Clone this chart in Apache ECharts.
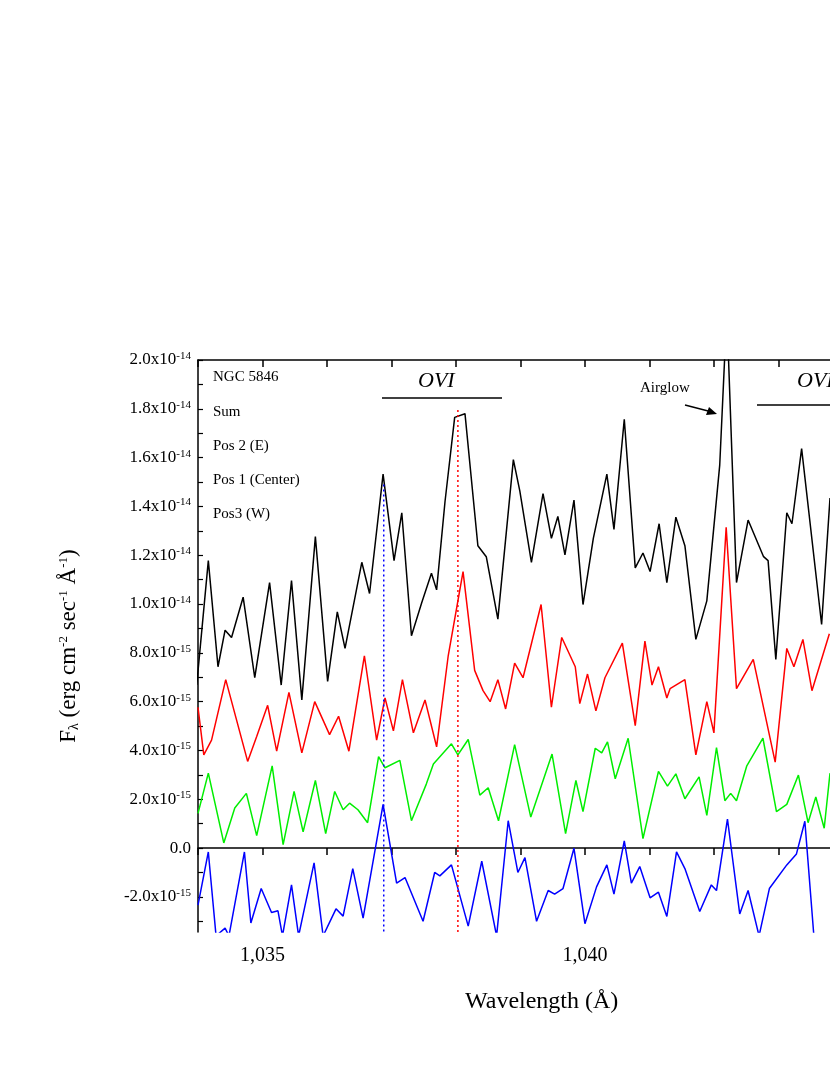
<!DOCTYPE html>
<html><head><meta charset="utf-8">
<script src="https://cdn.jsdelivr.net/npm/echarts@6/dist/echarts.min.js"></script>
<style>html,body{margin:0;padding:0;background:#fff}#c{width:830px;height:1075px}</style>
</head><body><div id="c"></div>
<script>
// wavelengths (Å) and fluxes (units of 1e-15 erg cm^-2 s^-1 Å^-1)
const sumWave = [1033.98,1034.16,1034.31,1034.42,1034.52,1034.70,1034.88,1035.11,1035.29,1035.45,1035.61,1035.82,1036.01,1036.16,1036.28,1036.54,1036.66,1036.87,1037.04,1037.16,1037.31,1037.47,1037.62,1037.70,1037.83,1037.98,1038.14,1038.34,1038.47,1038.65,1038.89,1038.99,1039.17,1039.35,1039.48,1039.58,1039.69,1039.83,1039.97,1040.13,1040.34,1040.45,1040.61,1040.78,1040.90,1041.01,1041.15,1041.27,1041.41,1041.55,1041.72,1041.89,1042.09,1042.20,1042.35,1042.53,1042.77,1042.84,1042.96,1043.13,1043.21,1043.36,1043.67,1043.80];
const sumFlux = [6.68,11.78,7.43,8.93,8.63,10.28,6.98,10.88,6.68,10.96,6.07,12.76,6.83,9.68,8.18,11.71,10.43,15.32,11.78,13.74,8.70,10.06,11.26,10.58,14.19,17.65,17.80,12.39,11.94,9.38,15.92,14.64,11.71,14.52,12.69,13.59,12.01,14.26,9.98,12.69,15.32,13.06,17.57,11.48,12.09,11.33,13.29,10.88,13.56,12.39,8.55,10.13,15.69,22.0,10.88,13.44,11.94,11.78,7.73,13.74,13.29,16.37,9.16,14.34];
const eWave = [1034.00,1034.09,1034.21,1034.43,1034.77,1034.91,1035.08,1035.22,1035.41,1035.61,1035.81,1036.04,1036.18,1036.34,1036.58,1036.77,1036.90,1037.03,1037.17,1037.34,1037.52,1037.70,1037.88,1038.11,1038.29,1038.42,1038.53,1038.65,1038.77,1038.91,1039.04,1039.32,1039.48,1039.64,1039.85,1039.92,1040.04,1040.17,1040.31,1040.58,1040.78,1040.93,1041.04,1041.14,1041.27,1041.32,1041.55,1041.72,1041.89,1042.00,1042.19,1042.35,1042.61,1042.95,1043.13,1043.24,1043.38,1043.52,1043.79];
const eFlux = [5.77,3.82,4.42,6.90,3.55,4.57,5.85,3.97,6.38,3.90,6.00,4.65,5.40,3.97,7.88,4.42,6.15,4.80,6.90,4.72,6.07,4.15,7.88,11.33,7.28,6.45,6.00,6.90,5.70,7.58,6.98,9.98,5.77,8.63,7.43,5.92,7.13,5.62,6.98,8.40,5.02,8.48,6.68,7.43,6.15,6.53,6.90,3.82,6.00,4.72,13.14,6.53,7.73,3.52,8.18,7.43,8.55,6.45,8.78];
const cWave = [1034.00,1034.16,1034.40,1034.57,1034.75,1034.91,1035.15,1035.32,1035.49,1035.63,1035.82,1035.98,1036.12,1036.25,1036.35,1036.48,1036.63,1036.80,1036.90,1037.13,1037.31,1037.54,1037.65,1037.93,1038.03,1038.19,1038.37,1038.50,1038.66,1038.91,1039.16,1039.49,1039.70,1039.86,1039.97,1040.16,1040.26,1040.35,1040.47,1040.67,1040.90,1041.14,1041.28,1041.41,1041.55,1041.77,1041.89,1042.04,1042.17,1042.26,1042.35,1042.51,1042.76,1042.97,1043.13,1043.31,1043.46,1043.58,1043.71,1043.80];
const cFlux = [1.42,3.07,0.21,1.64,2.24,0.51,3.37,0.14,2.32,0.66,2.77,0.59,2.32,1.57,1.84,1.57,1.04,3.75,3.29,3.59,1.12,2.62,3.44,4.27,3.82,4.45,2.17,2.47,1.12,4.24,1.27,3.85,0.59,2.77,1.49,4.09,3.90,4.35,2.84,4.50,0.39,3.14,2.54,3.04,2.02,2.92,1.34,4.12,1.94,2.24,1.94,3.37,4.50,1.49,1.79,2.99,1.04,2.09,0.81,3.07];
const wWave = [1034.00,1034.16,1034.28,1034.42,1034.48,1034.72,1034.82,1034.98,1035.14,1035.24,1035.31,1035.45,1035.56,1035.80,1035.94,1036.14,1036.25,1036.40,1036.56,1036.87,1037.08,1037.21,1037.49,1037.67,1037.75,1037.93,1038.19,1038.40,1038.63,1038.81,1038.96,1039.07,1039.25,1039.43,1039.53,1039.66,1039.83,1040.00,1040.18,1040.34,1040.45,1040.61,1040.72,1040.85,1041.01,1041.14,1041.27,1041.42,1041.55,1041.78,1041.96,1042.04,1042.21,1042.40,1042.53,1042.70,1042.86,1043.13,1043.28,1043.41,1043.55,1043.80];
const wFlux = [-2.34,-0.16,-3.6,-3.28,-3.6,-0.16,-3.07,-1.66,-2.64,-2.57,-3.6,-1.51,-3.6,-0.61,-3.6,-2.49,-2.79,-0.84,-2.87,1.79,-1.44,-1.21,-3.0,-1.00,-1.14,-0.69,-3.2,-0.54,-3.6,1.12,-1.0,-0.39,-3.0,-1.74,-1.89,-1.66,-0.01,-3.1,-1.59,-0.69,-1.89,0.29,-1.44,-0.76,-2.04,-1.81,-2.8,-0.16,-0.84,-2.6,-1.51,-1.74,1.19,-2.7,-1.74,-3.6,-1.66,-0.69,-0.24,1.1,-3.6,-3.6];
const yTicks = [-2,0,2,4,6,8,10,12,14,16,18,20];
const legendLines = ['NGC 5846','Sum','Pos 2 (E)','Pos 1 (Center)','Pos3 (W)'];
const blueMarker = [1036.88, 14.9];
const redMarker = [1038.03, 17.95];
const yMin = -3.44, yMax = 20;
const xMin = 1034, xMax = 1043.8;

const zip = (a,b) => a.map((x,i)=>[x,b[i]]);
const serif = 'Liberation Serif';
const chart = echarts.init(document.getElementById('c'));
function lab(v){
  if (Math.abs(v) < 1e-9) return '0.0';
  if (Math.abs(v) >= 10) return (v/10).toFixed(1)+'x10{s|-14}';
  return v.toFixed(1)+'x10{s|-15}';
}
const allTicks=[]; for(let v=-3;v<=20;v++) allTicks.push(v);
const xTicks=[]; for(let v=1034;v<=1043;v++) xTicks.push(v);
function ser(name,w,f,color){
  return {name,type:'line',data:zip(w,f),showSymbol:false,symbol:'none',lineStyle:{color,width:1.5},clip:true,animation:false,z:3};
}
function vline(m,color){
  return {type:'line',data:[[m[0],m[1]],[m[0],yMin]],showSymbol:false,symbol:'none',lineStyle:{color,width:1.5,type:[2,3]},animation:false,z:4};
}
const gText = legendLines.map((t,i)=>({type:'text',left:213,top:370+i*34.2,style:{text:t,font:'15px '+serif,fill:'#000'}}));
chart.setOption({
  animation:false,
  grid:{left:198,top:360,bottom:143,right:0,containLabel:false},
  xAxis:[{type:'value',min:xMin,max:xMax,
    axisLine:{lineStyle:{color:'#000',width:1.5}},
    axisTick:{length:7,customValues:xTicks,lineStyle:{color:'#000',width:1.5}},
    axisLabel:{customValues:[1035,1040],fontFamily:serif,fontSize:20,color:'#000',margin:14},
    splitLine:{show:false}},
   {type:'value',position:'top',min:xMin,max:xMax,
    axisLine:{lineStyle:{color:'#000',width:1.5}},axisTick:{inside:true,length:7,customValues:xTicks,lineStyle:{color:'#000',width:1.5}},axisLabel:{show:false},splitLine:{show:false}}],
  yAxis:{type:'value',min:yMin,max:yMax,
    axisLine:{show:true,lineStyle:{color:'#000',width:1.5}},
    axisTick:{show:true,inside:true,length:5,customValues:allTicks,lineStyle:{color:'#000',width:1.2}},
    axisLabel:{customValues:yTicks,formatter:lab,fontFamily:serif,fontSize:17,color:'#000',margin:7,
      rich:{s:{fontFamily:serif,fontSize:11,verticalAlign:'top',padding:[0,0,8,0]}}},
    splitLine:{show:false},
    name:'F{sub|λ} (erg cm{sup|-2} sec{sup|-1} Å{sup|-1})',nameLocation:'middle',nameGap:117,nameRotate:90,
    nameTextStyle:{fontFamily:serif,fontSize:23,color:'#000',
      rich:{sub:{fontFamily:serif,fontSize:14,verticalAlign:'bottom',padding:[10,0,0,0]},sup:{fontFamily:serif,fontSize:13,verticalAlign:'top',padding:[0,0,10,0]}}}},
  series:[
    ser('Sum',sumWave,sumFlux,'#000000'),
    ser('Pos 2 (E)',eWave,eFlux,'#ff0000'),
    ser('Pos 1 (Center)',cWave,cFlux,'#00ee00'),
    ser('Pos3 (W)',wWave,wFlux,'#0000ff'),
    vline(blueMarker,'#0000ff'),
    vline(redMarker,'#ff0000')
  ],
  graphic: gText.concat([
    {type:'text',left:465,top:990,style:{text:'Wavelength (Å)',font:'24px '+serif,fill:'#000'}},
    {type:'text',left:418,top:370,style:{text:'OVI',font:'italic 22px '+serif,fill:'#000'}},
    {type:'line',shape:{x1:382,y1:398,x2:502,y2:398},style:{stroke:'#000',lineWidth:1.3}},
    {type:'text',left:797,top:370,style:{text:'OVI',font:'italic 22px '+serif,fill:'#000'}},
    {type:'line',shape:{x1:757,y1:405,x2:840,y2:405},style:{stroke:'#000',lineWidth:1.3}},
    {type:'text',left:640,top:381,style:{text:'Airglow',font:'15px '+serif,fill:'#000'}},
    {type:'line',shape:{x1:685,y1:405,x2:712,y2:412},style:{stroke:'#000',lineWidth:1.3}},
    {type:'polygon',shape:{points:[[717,414],[706,415],[709,407]]},style:{fill:'#000'}}
  ])
});
</script></body></html>
